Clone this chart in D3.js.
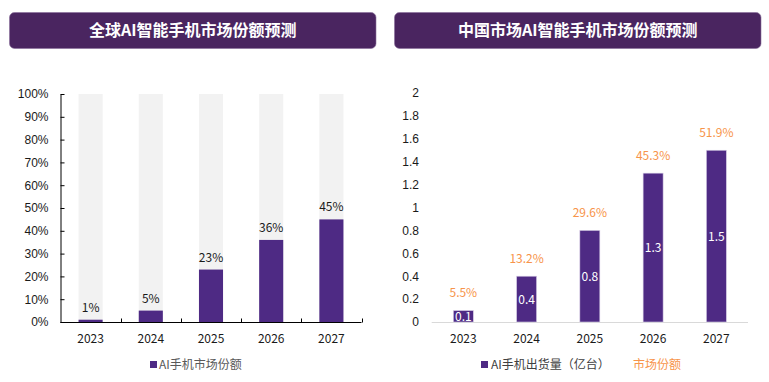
<!DOCTYPE html>
<html><head><meta charset="utf-8">
<script src="https://cdn.jsdelivr.net/npm/d3@7"></script>
<style>
html,body{margin:0;padding:0;background:#fff;}
svg{display:block;font-family:"Microsoft YaHei","Noto Sans CJK SC","Noto Sans",sans-serif;}
</style></head>
<body><svg id="c" width="769" height="382"></svg>
<script>
const years = ["2023","2024","2025","2026","2027"];
const globalShare = [0.01,0.05,0.23,0.36,0.45];
const globalLabels = ["1%","5%","23%","36%","45%"];
const leftTicks = [0,0.1,0.2,0.3,0.4,0.5,0.6,0.7,0.8,0.9,1.0];
const chinaShipments = [0.1,0.4,0.8,1.3,1.5];
const chinaShareLabels = ["5.5%","13.2%","29.6%","45.3%","51.9%"];
const rightTicks = [0,0.2,0.4,0.6,0.8,1,1.2,1.4,1.6,1.8,2];
const titles = ["全球AI智能手机市场份额预测","中国市场AI智能手机市场份额预测"];
const legendLeft = "AI手机市场份额";
const legendRight = ["AI手机出货量（亿台）","市场份额"];

const purple = "#4e2a84", orange = "#f7944a", titleFill = "#4a2560";
const svg = d3.select("#c");

// titles
[[9.5,376],[394.5,761]].forEach((r,i)=>{
  svg.append("rect").attr("x",r[0]).attr("y",12.5).attr("width",r[1]-r[0]).attr("height",36)
    .attr("rx",5).attr("fill",titleFill).attr("stroke","#8a6f9a").attr("stroke-width",0.6);
  svg.append("text").attr("x",(r[0]+r[1])/2).attr("y",36).attr("text-anchor","middle")
    .attr("fill","#fff").attr("font-size",16).attr("font-weight","bold").text(titles[i]);
});

// LEFT chart
const xL = d3.scaleBand().domain(years).range([60.5,361.5]).paddingInner(0.6).paddingOuter(0.3);
const yL = d3.scaleLinear().domain([0,1]).range([322,94]);
const gL = svg.append("g");
gL.selectAll("rect.bg").data(years).join("rect").attr("class","bg")
  .attr("x",d=>xL(d)).attr("width",xL.bandwidth()).attr("y",yL(1)).attr("height",yL(0)-yL(1)).attr("fill","#f2f2f2");
gL.selectAll("rect.bar").data(globalShare).join("rect").attr("class","bar")
  .attr("x",(d,i)=>xL(years[i])).attr("width",xL.bandwidth()).attr("y",d=>yL(d)).attr("height",d=>yL(0)-yL(d)).attr("fill",purple);
gL.selectAll("text.lab").data(globalShare).join("text").attr("class","lab")
  .attr("x",(d,i)=>xL(years[i])+xL.bandwidth()/2).attr("y",d=>yL(d)-8).attr("text-anchor","middle")
  .attr("font-size",12).attr("fill","#1a1a1a").text((d,i)=>globalLabels[i]);
// y axis
const yAxL = d3.axisLeft(yL).tickValues(leftTicks).tickFormat(d3.format(".0%")).tickSizeInner(-4).tickSizeOuter(0).tickPadding(12);
const ga = gL.append("g").attr("transform","translate(60.5,0)").call(yAxL);
ga.select(".domain").attr("stroke","#000");
ga.selectAll(".tick line").attr("stroke","#000");
ga.selectAll("text").attr("font-size",12).attr("fill","#1a1a1a").attr("font-family",null);
// x axis
const xb = gL.append("g").attr("transform","translate(0,322.5)");
xb.append("line").attr("x1",60.5).attr("x2",361.5).attr("stroke","#000");
const bounds = years.map((d,i)=>xL(d)+xL.bandwidth()/2+xL.step()/2);
xb.selectAll("line.t").data(bounds).join("line").attr("class","t").attr("x1",d=>Math.round(d)+0.5).attr("x2",d=>Math.round(d)+0.5).attr("y1",0).attr("y2",-4).attr("stroke","#000");
xb.selectAll("text").data(years).join("text").attr("x",d=>xL(d)+xL.bandwidth()/2).attr("y",20)
  .attr("text-anchor","middle").attr("font-size",12).attr("fill","#1a1a1a").text(d=>d);
// legend
svg.append("rect").attr("x",150).attr("y",361).attr("width",7).attr("height",7).attr("fill",purple);
svg.append("text").attr("x",159).attr("y",369).attr("font-size",12).attr("fill","#595959").text(legendLeft);

// RIGHT chart
const xR = d3.scaleBand().domain(years).range([431.7,748]).paddingInner(0.684).paddingOuter(0.342);
const yR = d3.scaleLinear().domain([0,2]).range([322,93]);
const gR = svg.append("g");
gR.append("line").attr("x1",431.7).attr("x2",748).attr("y1",322.5).attr("y2",322.5).attr("stroke","#d9d9d9");
gR.selectAll("rect.bar").data(chinaShipments).join("rect").attr("class","bar")
  .attr("x",(d,i)=>xR(years[i])).attr("width",xR.bandwidth()).attr("y",d=>yR(d)).attr("height",d=>yR(0)-yR(d))
  .attr("fill",purple).attr("stroke","#d8cfe6").attr("stroke-width",0.6);
gR.selectAll("text.in").data(chinaShipments).join("text").attr("class","in")
  .attr("x",(d,i)=>xR(years[i])+xR.bandwidth()/2).attr("y",d=>(yR(d)+yR(0))/2+4.5).attr("text-anchor","middle")
  .attr("font-size",12).attr("fill","#fff").text(d=>d);
gR.selectAll("text.sh").data(chinaShipments).join("text").attr("class","sh")
  .attr("x",(d,i)=>xR(years[i])+xR.bandwidth()/2).attr("y",d=>yR(d)-13.5).attr("text-anchor","middle")
  .attr("font-size",12).attr("fill",orange).text((d,i)=>chinaShareLabels[i]);
const yAxR = d3.axisLeft(yR).tickValues(rightTicks).tickFormat(d=>String(d)).tickSize(0).tickPadding(0);
const gr = gR.append("g").attr("transform","translate(419,0)").call(yAxR);
gr.select(".domain").remove();
gr.selectAll("text").attr("font-size",12).attr("fill","#1a1a1a").attr("font-family",null);
gR.selectAll("text.xl").data(years).join("text").attr("class","xl").attr("x",d=>xR(d)+xR.bandwidth()/2).attr("y",342.5)
  .attr("text-anchor","middle").attr("font-size",12).attr("fill","#1a1a1a").text(d=>d);
svg.append("rect").attr("x",481).attr("y",361).attr("width",7).attr("height",7).attr("fill",purple);
svg.append("text").attr("x",491).attr("y",369).attr("font-size",12).attr("fill","#404040").text(legendRight[0]);
svg.append("text").attr("x",633).attr("y",369).attr("font-size",12).attr("fill",orange).text(legendRight[1]);
</script></body></html>
